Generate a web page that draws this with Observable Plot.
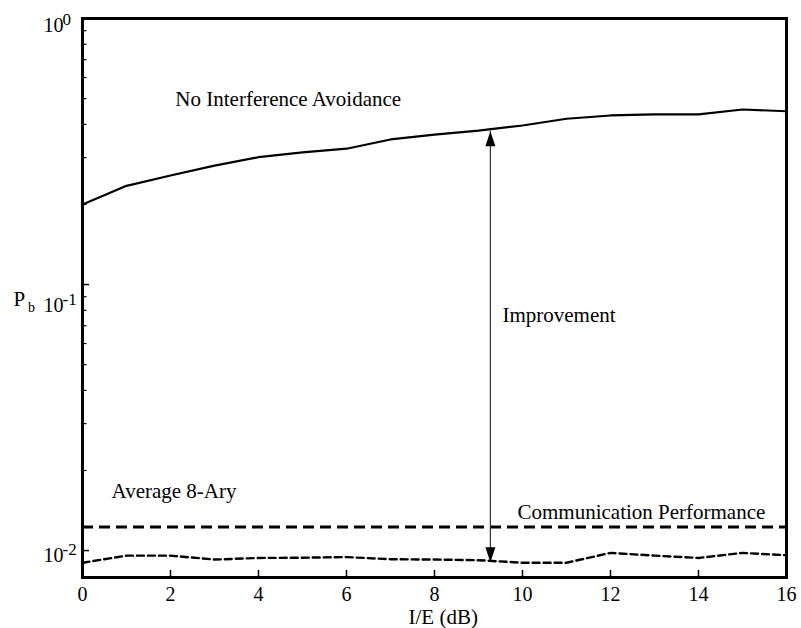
<!DOCTYPE html>
<html><head><meta charset="utf-8">
<script src="https://cdn.jsdelivr.net/npm/d3@7"></script>
<script src="https://cdn.jsdelivr.net/npm/@observablehq/plot@0.6"></script>
<style>
body{margin:0;background:#fff}
#chart svg{font-family:"Liberation Serif","Times New Roman",serif;background:#fff}
</style>
</head><body><div id="chart"></div>
<script>
// I/E in dB
const ie = [0,1,2,3,4,5,6,7,8,9,10,11,12,13,14,15,16];
// No interference avoidance
const noAvoid = [0.200,0.235,0.257,0.280,0.301,0.314,0.324,0.351,0.366,0.379,0.396,0.420,0.432,0.436,0.436,0.455,0.448];
// With interference avoidance (lower dashed)
const withAvoid = [0.0090,0.00957,0.00957,0.00925,0.00938,0.0094,0.00945,0.00928,0.00925,0.0092,0.0090,0.0090,0.0098,0.00957,0.00938,0.0098,0.0096];
// Average 8-ary communication performance (constant)
const avg8ary = [0.01225];
const xTicks = [0,2,4,6,8,10,12,14,16];
const yMajor = [1,0.1,0.01];
const yExp = ["0","-1","-2"];
const yMinor = [0.009,0.02,0.03,0.04,0.05,0.06,0.07,0.08,0.09,0.2,0.3,0.4,0.5,0.6,0.7,0.8,0.9];
const improvement = [{x:9.27, top:0.377, bottom:0.00904}];
const notes = [
  {x:2.11, y:0.467, text:"No Interference Avoidance"},
  {x:9.545, y:0.0720, text:"Improvement"},
  {x:0.66, y:0.01582, text:"Average 8-Ary"},
  {x:9.886, y:0.01319, text:"Communication Performance"}
];

const W = 801, H = 628, mL = 82, mR = 15, mT = 18, mB = 51;
const pw = W - mL - mR, ph = H - mT - mB;
const labelDy = [13, 27, 11];

const series = ie.map((x,i)=>({x, a:noAvoid[i], b:withAvoid[i]}));

const upHead = {draw(ctx){ctx.moveTo(0,0);ctx.lineTo(-5,15);ctx.lineTo(5,15);ctx.closePath();}};
const downHead = {draw(ctx){ctx.moveTo(0,0);ctx.lineTo(-5,-15);ctx.lineTo(5,-15);ctx.closePath();}};

const marks = [
  Plot.ruleY(avg8ary, {y:d=>d, stroke:"black", strokeWidth:3, strokeDasharray:"11,6"}),
  Plot.line(series, {x:"x", y:"a", stroke:"black", strokeWidth:2.2}),
  Plot.line(series, {x:"x", y:"b", stroke:"black", strokeWidth:2.4, strokeDasharray:"7,4"}),
  Plot.ruleX(improvement, {x:"x", y1:"top", y2:"bottom", stroke:"#333", strokeWidth:1.2}),
  Plot.dot(improvement, {x:"x", y:"top", symbol:upHead, fill:"black", stroke:null}),
  Plot.dot(improvement, {x:"x", y:"bottom", symbol:downHead, fill:"black", stroke:null}),
  Plot.text(notes, {x:"x", y:"y", text:"text", textAnchor:"start", lineAnchor:"bottom", fontSize:21, fill:"black"}),
  // x ticks (inward)
  Plot.ruleX(xTicks, {x:d=>d, insetTop:ph-7, stroke:"black", strokeWidth:1.5}),
  Plot.text(xTicks, {x:d=>d, text:d=>String(d), frameAnchor:"bottom", dy:23.5, lineAnchor:"bottom", fontSize:20, fill:"black"}),
  // y ticks (inward)
  Plot.ruleY(yMajor, {y:d=>d, insetRight:pw-7, stroke:"black", strokeWidth:1.5}),
  Plot.ruleY(yMinor, {y:d=>d, insetRight:pw-4.5, stroke:"black", strokeWidth:1.2}),
  ...yMajor.map((t,i)=>Plot.text([t], {y:d=>d, text:()=>"10", frameAnchor:"left", dx:-39, dy:labelDy[i], textAnchor:"start", lineAnchor:"bottom", fontSize:20, fill:"black"})),
  ...yMajor.map((t,i)=>Plot.text([t], {y:d=>d, text:()=>yExp[i], frameAnchor:"left", dx:-20, dy:labelDy[i]-7, textAnchor:"start", lineAnchor:"bottom", fontSize:17, fill:"black"})),
  // axis titles
  Plot.text(["P"], {text:d=>d, frameAnchor:"left", dx:-69, dy:7.5, textAnchor:"start", lineAnchor:"bottom", fontSize:21, fill:"black"}),
  Plot.text(["b"], {text:d=>d, frameAnchor:"left", dx:-54.5, dy:13.5, textAnchor:"start", lineAnchor:"bottom", fontSize:14, fill:"black"}),
  Plot.text(["I/E (dB)"], {text:d=>d, frameAnchor:"bottom-left", dx:326, dy:46.5, textAnchor:"start", lineAnchor:"bottom", fontSize:21, fill:"black"}),
  Plot.frame({stroke:"black", strokeWidth:3})
];

const chart = Plot.plot({
  width: W, height: H,
  marginLeft: mL, marginRight: mR, marginTop: mT, marginBottom: mB,
  x: {domain:[0,16], axis:null},
  y: {type:"log", domain:[0.00792, 1], axis:null},
  style: {fontFamily:"Liberation Serif, Times New Roman, serif", background:"white", overflow:"visible"},
  marks
});
document.getElementById("chart").appendChild(chart);
</script>
</body></html>
